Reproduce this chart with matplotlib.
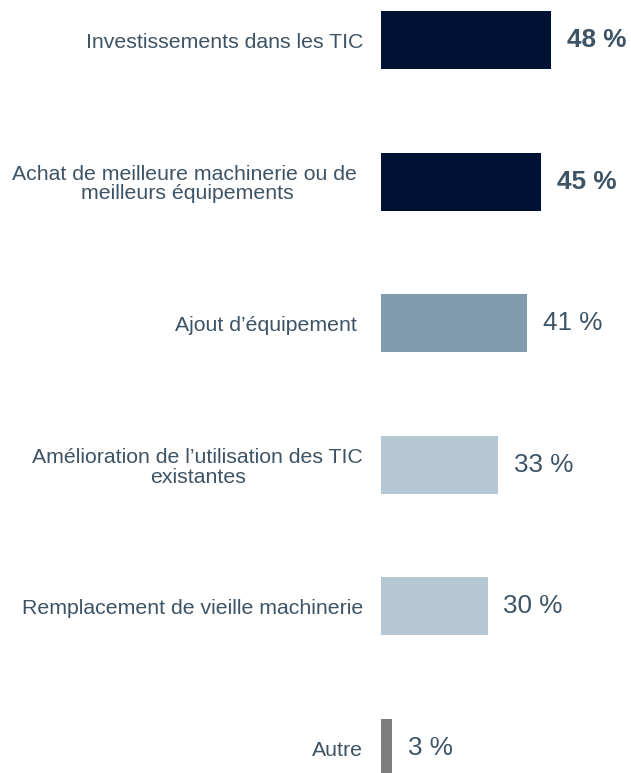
import matplotlib.pyplot as plt

plt.rcParams.update(
    {
        "font.family": ["Liberation Sans", "DejaVu Sans"],
        "font.size": 15,
    }
)

categories = [
    "Investissements dans les TIC",
    "Achat de meilleure machinerie ou de \nmeilleurs équipements",
    "Ajout d’équipement ",
    "Amélioration de l’utilisation des TIC\nexistantes",
    "Remplacement de vieille machinerie",
    "Autre",
]
values = [48, 45, 41, 33, 30, 3]
colors = ["#001233", "#001233", "#809BAE", "#B4C7D2", "#B4C7D2", "#7F7F7F"]
bold = [True, True, False, False, False, False]
text_color = "#3D5466"

fig = plt.figure(figsize=(6.31, 7.73), dpi=100)
ax = fig.add_axes([381 / 631, 0, 70 * 3.55 / 631, 1])

pos = list(range(len(values)))
ax.barh(pos, values, height=0.41, color=colors)
ax.set_xlim(0, 70)
ax.set_ylim(5.176, -0.2825)

for p, v, b in zip(pos, values, bold):
    ax.annotate(
        f"{v} %",
        xy=(v, p),
        xytext=(11.5, 0),
        textcoords="offset points",
        ha="left",
        va="center",
        fontsize=18.8,
        fontweight="bold" if b else "normal",
        color=text_color,
        annotation_clip=False,
    )

ax.set_yticks(pos)
ax.set_yticklabels(categories, color=text_color, fontsize=15.3)
for lab in ax.get_yticklabels():
    lab.set_multialignment("center")
    lab.set_linespacing(1.05)
ax.tick_params(axis="y", length=0, pad=13)
ax.set_xticks([])
for s in ax.spines.values():
    s.set_visible(False)

fig.savefig("out.png", dpi=100)
